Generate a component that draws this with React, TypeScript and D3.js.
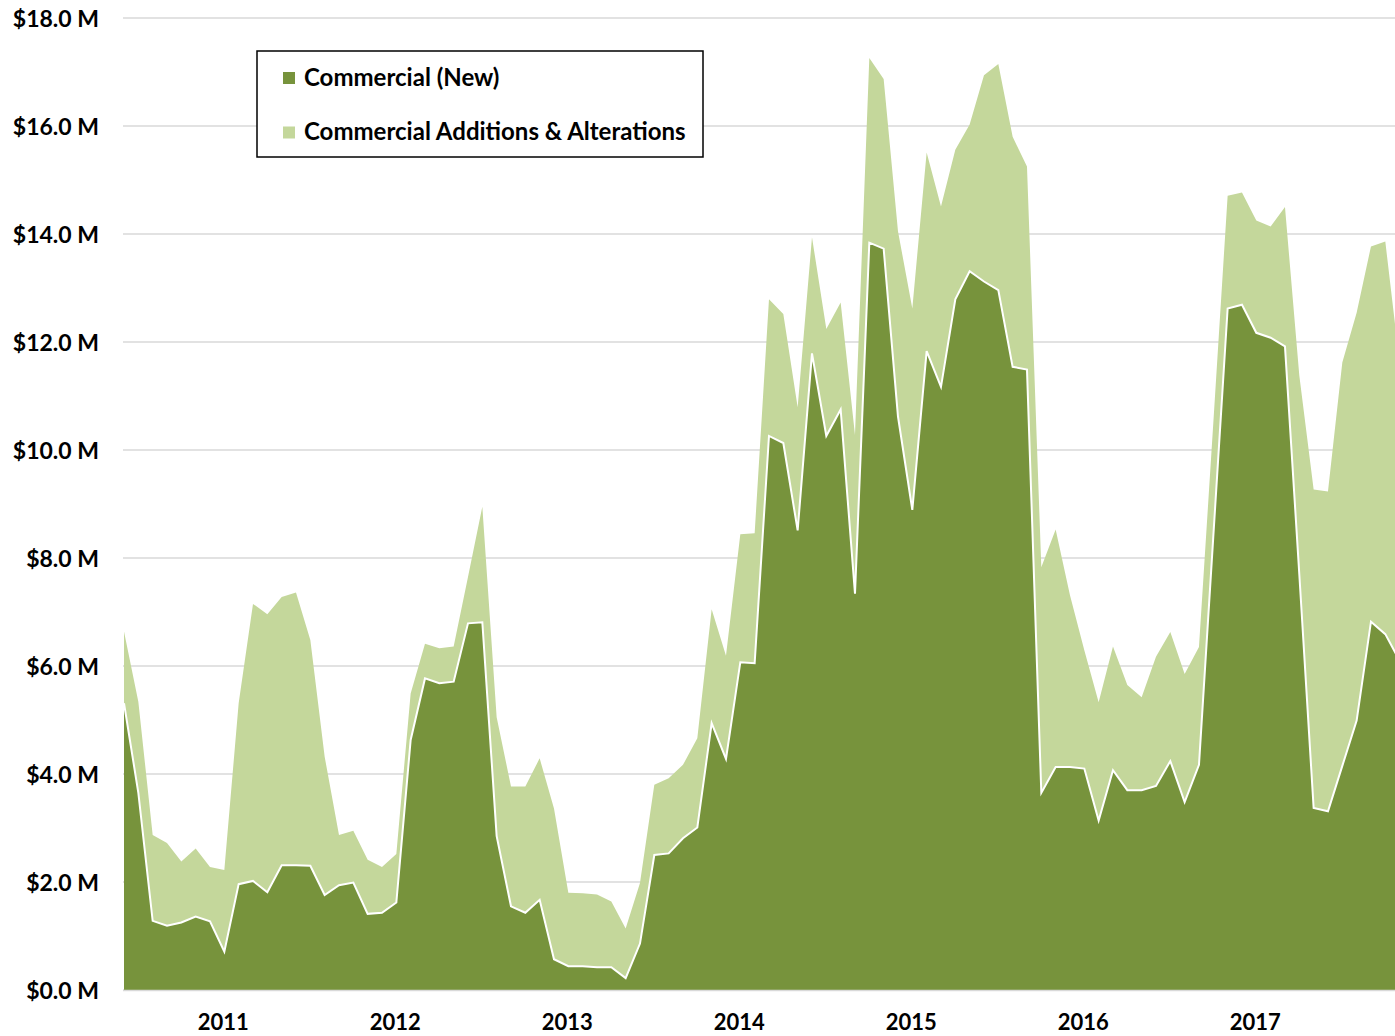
import React from "react";
import * as d3 from "d3";

const newValues = [
  5.31, 3.65, 1.28, 1.19, 1.25, 1.36, 1.27, 0.71, 1.96, 2.02, 1.81, 2.31, 2.31, 2.3, 1.76, 1.94, 1.99, 1.41, 1.43, 1.62,
  4.63, 5.77, 5.68, 5.71, 6.79, 6.81, 2.85, 1.55, 1.43, 1.67, 0.57, 0.44, 0.44, 0.42, 0.42, 0.22, 0.86, 2.5, 2.53, 2.81,
  3.01, 4.94, 4.28, 6.07, 6.05, 10.26, 10.13, 8.51, 11.79, 10.26, 10.75, 7.34, 13.84, 13.73, 10.62, 8.89, 11.83, 11.17, 12.79, 13.31,
  13.12, 12.96, 11.54, 11.49, 3.65, 4.13, 4.13, 4.1, 3.14, 4.07, 3.7, 3.7, 3.78, 4.24, 3.48, 4.17, 8.4, 12.62, 12.69, 12.17,
  12.08, 11.92, 7.7, 3.37, 3.31, 4.15, 4.99, 6.82, 6.59, 6.1,
];

const additionsValues = [
  1.33, 1.69, 1.59, 1.53, 1.13, 1.26, 1.01, 1.51, 3.35, 5.13, 5.15, 4.97, 5.05, 4.18, 2.56, 0.93, 0.96, 1.0, 0.85, 0.9,
  0.86, 0.64, 0.65, 0.65, 0.86, 2.14, 2.2, 2.22, 2.34, 2.62, 2.79, 1.36, 1.35, 1.35, 1.22, 0.92, 1.12, 1.3, 1.39, 1.36,
  1.65, 2.11, 1.91, 2.37, 2.41, 2.53, 2.39, 2.28, 2.15, 1.98, 1.98, 2.94, 3.42, 3.14, 3.43, 3.73, 3.68, 3.34, 2.77, 2.72,
  3.82, 4.19, 4.26, 3.76, 4.18, 4.4, 3.18, 2.19, 2.19, 2.29, 1.95, 1.72, 2.39, 2.39, 2.37, 2.18, 2.1, 2.09, 2.08, 2.08,
  2.06, 2.58, 3.68, 5.9, 5.92, 7.47, 7.55, 6.95, 7.27, 5.5,
];

const seriesNames = ["Commercial (New)", "Commercial Additions & Alterations"];
const seriesColors = ["#77933c", "#c4d79b"];
const yearLabels = ["2011", "2012", "2013", "2014", "2015", "2016", "2017"];
const yearLabelMonthIndex = [7, 19, 31, 43, 55, 67, 79];
const yTicks = [0, 2, 4, 6, 8, 10, 12, 14, 16, 18];

const W = 1395;
const H = 1036;
const FONT = "Lato, 'Open Sans', sans-serif";

export default function App() {
  const rows = newValues.map((v, i) => ({ i, n: v, a: additionsValues[i] }));
  const x = d3.scaleLinear().domain([0, 89]).range([124, 124 + 89 * 14.333]);
  const y = d3.scaleLinear().domain([0, 18]).range([990, 18]);

  const stack = d3.stack<any>().keys(["n", "a"]);
  const stacked = stack(rows);

  const area = d3
    .area<any>()
    .x((d: any) => x(d.data.i))
    .y0((d: any) => y(d[0]))
    .y1((d: any) => y(d[1]));

  const topLine = d3
    .line<any>()
    .x((d: any) => x(d.data.i))
    .y((d: any) => y(d[1]));

  return (
    <svg
      width={W}
      height={H}
      style={{ position: "absolute", left: 0, top: 0, background: "#fff" }}
      fontFamily={FONT}
    >
      {yTicks.map((t) => (
        <line key={"g" + t} x1={123} x2={W} y1={y(t)} y2={y(t)} stroke="#d9d9d9" strokeWidth={1.5} />
      ))}
      {stacked
        .slice()
        .reverse()
        .map((s: any, k: number) => (
          <path key={"a" + k} d={area(s) || ""} fill={seriesColors[1 - k]} />
        ))}
      <path d={topLine(stacked[0]) || ""} fill="none" stroke="#ffffff" strokeWidth={2} strokeLinejoin="miter" />
      <line x1={123} x2={W} y1={y(0) + 0.5} y2={y(0) + 0.5} stroke="#d9d9d9" strokeWidth={1.5} />

      {yTicks.map((t) => (
        <text
          key={"yl" + t}
          x={99}
          y={y(t) + 8.5}
          textAnchor="end"
          fontSize={23}
          fontWeight="bold"
          fill="#000"
        >
          {`$${t.toFixed(1)} M`}
        </text>
      ))}

      {yearLabels.map((lab, k) => (
        <text
          key={"yr" + lab}
          x={x(yearLabelMonthIndex[k]) - 1}
          y={1030}
          textAnchor="middle"
          fontSize={22}
          fontWeight="bold"
          fill="#000"
        >
          {lab}
        </text>
      ))}

      <g>
        <rect x={257} y={51} width={446} height={106} fill="#fff" stroke="#000" strokeWidth={1.5} />
        {seriesNames.map((name, k) => (
          <g key={"lg" + k}>
            <rect x={283} y={72 + k * 54.5} width={12} height={12} fill={seriesColors[k]} />
            <text x={304} y={85.5 + k * 54} fontSize={24} fontWeight="bold" fill="#000">
              {name}
            </text>
          </g>
        ))}
      </g>
    </svg>
  );
}
